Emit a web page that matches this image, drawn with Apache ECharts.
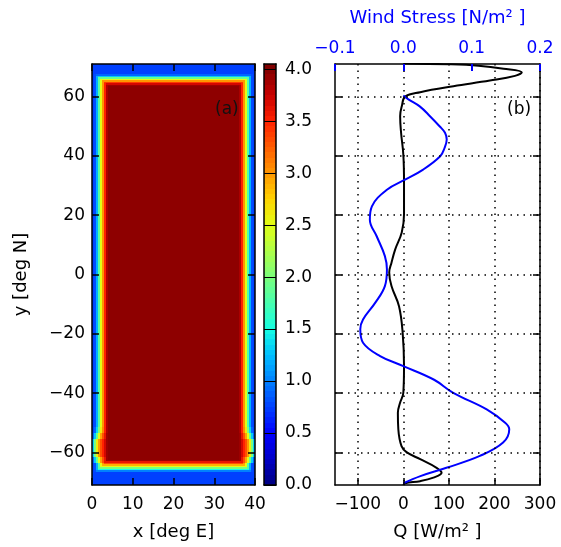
<!DOCTYPE html>
<html>
<head>
<meta charset="UTF-8">
<title>Forcing fields</title>
<style>
  html, body { margin: 0; padding: 0; background: #fff; }
  #chart { width: 561px; height: 547px; }
</style>
<script src="https://cdn.jsdelivr.net/npm/echarts@6/dist/echarts.min.js"></script>
</head>
<body>
<div id="chart"></div>
<script>
// ---- panel (a): field values (0.5 deg cells) ----
// across the east/west walls, from the wall inward (mirrored at x = 40)
const sideEdge = [0.75, 0.8, 1.2, 1.8, 2.5, 3.0, 3.5, 3.85];
// the edge widens outward in the south, between about 52S and 64S
const sideEdgeS1 = [0.78, 0.9, 1.35, 2.0, 2.6, 3.05, 3.5, 3.85];
const sideEdgeS2 = [0.9, 1.3, 1.9, 2.5, 2.95, 3.3, 3.6, 3.9];
const sideEdgeS3 = [1.3, 2.0, 2.6, 3.0, 3.3, 3.5, 3.7, 3.9];
const southRowEdges = [-51.5, -53.5, -55.5, -61.5, -63.5];
const southProfiles = [sideEdgeS1, sideEdgeS2, sideEdgeS3, sideEdgeS2];
// from the northern wall (71N) southward
const topEdge = [0.75, 0.75, 0.75, 0.75, 0.75, 0.75, 0.75, 0.9, 1.3, 1.9, 2.5, 3.0, 3.4, 3.7, 3.9];
// from the southern wall (71S) northward
const bottomEdge = [0.75, 0.75, 0.75, 0.75, 0.75, 0.75, 0.75, 0.75, 0.75, 1.0, 1.5, 2.0, 2.5, 2.9, 3.3, 3.6, 3.9];
const interiorValue = 3.95;

// colour bar labels
const cbTicks = [0, 0.5, 1, 1.5, 2, 2.5, 3, 3.5, 4];

// ---- panel (b): profiles vs latitude ----
const qLat = [71.2, 70.9, 70.4, 69.4, 68.2, 67.0, 65.4, 63.5, 61.5, 60.0, 57.0, 53.4, 47.9, 40.4, 31.0, 20.2, 14.2, 8.4, 4.0, 0.7, -3.9, -10.7, -19.6, -30.9, -39.9, -43.2, -46.6, -52.2, -57.9, -59.9, -62.3, -65.2, -66.9, -68.5, -69.7, -70.4, -71.0];
const qVal = [0, 100, 165, 220, 260, 245, 190, 110, 37, 4, -3, -7, -5, 0, 1.5, 1.5, -3.5, -18, -26, -31, -26, -9.5, -1.5, 1.5, 0, -7, -12, -11, -4, 7, 37, 73, 84, 66, 37, 4, 0];

const tauLat = [60.4, 59.0, 56.7, 53.4, 50.0, 47.8, 45.5, 42.5, 39.9, 35.4, 32.0, 28.6, 23.0, 18.5, 12.9, 6.2, 1.7, -3.9, -9.5, -15.2, -18.5, -23.0, -27.5, -30.9, -35.5, -39.9, -45.5, -50.0, -52.2, -56.7, -61.2, -65.2, -68.0, -70.4];
const tauVal = [0, 0.008, 0.024, 0.039, 0.053, 0.061, 0.0635, 0.060, 0.054, 0.029, 0.0025, -0.024, -0.046, -0.049, -0.039, -0.027, -0.024, -0.027, -0.041, -0.059, -0.063, -0.059, -0.034, 0, 0.045, 0.073, 0.122, 0.149, 0.155, 0.146, 0.112, 0.063, 0.025, 0];

const latTicks = [-60, -40, -20, 0, 20, 40, 60];
const qTicks = [-100, 0, 100, 200, 300];

const jet = ['#000080', '#0000c8', '#0000ff', '#0040ff', '#0080ff', '#00bfff', '#15ffe2', '#48ffaf',
  '#7bff7b', '#afff48', '#e2ff15', '#ffd200', '#ff9700', '#ff5c00', '#ff2100', '#c80000', '#800000'];

// build field as horizontal runs of equal value: [x0, x1, y0, y1, v]
const cell = 0.5, latMin = -71, nx = 80, ny = 284;
const fieldRuns = [];
for (let j = 0; j < ny; j++) {
  const y0 = latMin + j * cell, y1 = y0 + cell, yc = y0 + cell / 2;
  let cap = interiorValue;
  if (j < bottomEdge.length) cap = Math.min(cap, bottomEdge[j]);
  if (ny - 1 - j < topEdge.length) cap = Math.min(cap, topEdge[ny - 1 - j]);
  let prof = sideEdge;
  for (let k = 0; k < southProfiles.length; k++) {
    if (yc < southRowEdges[k] && yc > southRowEdges[k + 1]) prof = southProfiles[k];
  }
  let start = 0, cur = null;
  for (let i = 0; i <= nx; i++) {
    let v = null;
    if (i < nx) {
      const k = Math.min(i, nx - 1 - i);
      v = Math.min(cap, k < prof.length ? prof[k] : interiorValue);
    }
    if (v !== cur) {
      if (cur !== null) fieldRuns.push([start * cell, i * cell, y0, y1, cur]);
      start = i; cur = v;
    }
  }
}
const cbCells = [];
for (let k = 0; k < 81; k++) cbCells.push([0, 1, k * 0.05, (k + 1) * 0.05, k * 0.05 + 0.025]);

function renderCell(params, api) {
  const p0 = api.coord([api.value(0), api.value(3)]);
  const p1 = api.coord([api.value(1), api.value(2)]);
  const x = Math.round(p0[0]), y = Math.round(p0[1]);
  return {
    type: 'rect',
    shape: { x: x, y: y, width: Math.round(p1[0]) - x, height: Math.round(p1[1]) - y },
    style: { fill: api.visual('color') }
  };
}

function minus(v) { return String(v).replace('-', '\u2212'); }

const font = 'DejaVu Sans';
const black = { onZero: false, lineStyle: { color: '#000', width: 1.5 } };
const tickIn = { show: true, inside: true, length: 7, lineStyle: { color: '#000', width: 1.5 } };
const dotted = { show: true, lineStyle: { color: '#000', width: 1.5, type: [1.5, 5] } };
const lbl = { color: '#000', fontSize: 17, fontFamily: font };

const chart = echarts.init(document.getElementById('chart'));
chart.setOption({
  animation: false,
  textStyle: { fontFamily: font },
  grid: [
    { left: 92, top: 64, width: 163, height: 421 },
    { left: 264, top: 64, width: 12, height: 421 },
    { left: 335, top: 64, width: 205, height: 421 }
  ],
  visualMap: {
    type: 'continuous', show: false, min: 0, max: 4, dimension: 4,
    seriesIndex: [0, 1], inRange: { color: jet }
  },
  xAxis: [
    { gridIndex: 0, type: 'value', position: 'bottom', min: 0, max: 40, interval: 10, z: 5,
      axisLine: black, axisTick: tickIn, splitLine: { show: false },
      axisLabel: Object.assign({ margin: 11 }, lbl),
      name: 'x [deg E]', nameLocation: 'middle', nameGap: 38,
      nameTextStyle: { color: '#000', fontSize: 18, fontFamily: font } },
    { gridIndex: 0, type: 'value', position: 'top', min: 0, max: 40, interval: 10, z: 5,
      axisLine: black, axisTick: tickIn, axisLabel: { show: false }, splitLine: { show: false } },
    { gridIndex: 1, type: 'value', position: 'bottom', min: 0, max: 1, z: 5,
      axisLine: black, axisTick: { show: false }, axisLabel: { show: false }, splitLine: { show: false } },
    { gridIndex: 2, type: 'value', position: 'bottom', min: -150, max: 300, z: 5,
      axisLine: black,
      axisTick: Object.assign({ customValues: qTicks }, tickIn),
      axisLabel: Object.assign({ margin: 11, customValues: qTicks, formatter: minus }, lbl),
      splitLine: dotted,
      name: 'Q [W/m\u00b2 ]', nameLocation: 'middle', nameGap: 38,
      nameTextStyle: { color: '#000', fontSize: 18, fontFamily: font } },
    { gridIndex: 2, type: 'value', position: 'top', min: -0.1, max: 0.2, interval: 0.1, z: 5,
      axisLine: black,
      axisTick: { show: true, inside: true, length: 7, lineStyle: { color: '#0000ff', width: 2 } },
      axisLabel: { margin: 7, color: '#0000ff', fontSize: 17, fontFamily: font,
        formatter: function (v) { return minus(v.toFixed(1)); } },
      splitLine: { show: false },
      name: 'Wind Stress [N/m\u00b2 ]', nameLocation: 'middle', nameGap: 37,
      nameTextStyle: { color: '#0000ff', fontSize: 18, fontFamily: font } },
    { gridIndex: 1, type: 'value', position: 'top', min: 0, max: 1, z: 5,
      axisLine: black, axisTick: { show: false }, axisLabel: { show: false }, splitLine: { show: false } }
  ],
  yAxis: [
    { gridIndex: 0, type: 'value', position: 'left', min: -71, max: 71, z: 5,
      axisLine: black,
      axisTick: Object.assign({ customValues: latTicks }, tickIn),
      axisLabel: Object.assign({ margin: 7, customValues: latTicks, formatter: minus }, lbl),
      splitLine: { show: false },
      name: 'y [deg N]', nameLocation: 'middle', nameGap: 62,
      nameTextStyle: { color: '#000', fontSize: 18, fontFamily: font } },
    { gridIndex: 0, type: 'value', position: 'right', min: -71, max: 71, z: 5,
      axisLine: black, axisTick: Object.assign({ customValues: latTicks }, tickIn),
      axisLabel: { show: false }, splitLine: { show: false } },
    { gridIndex: 1, type: 'value', position: 'right', min: 0, max: 4.05, z: 5,
      axisLine: black, axisTick: { show: false, customValues: cbTicks },
      axisLabel: Object.assign({ margin: 9, customValues: cbTicks,
        formatter: function (v) { return v.toFixed(1); } }, lbl),
      splitLine: { show: true, lineStyle: { color: '#000', width: 1 } } },
    { gridIndex: 2, type: 'value', position: 'left', min: -71, max: 71, z: 5,
      axisLine: black, axisTick: Object.assign({ customValues: latTicks }, tickIn),
      axisLabel: { show: false }, splitLine: dotted },
    { gridIndex: 2, type: 'value', position: 'right', min: -71, max: 71, z: 5,
      axisLine: black, axisTick: Object.assign({ customValues: latTicks }, tickIn),
      axisLabel: { show: false }, splitLine: { show: false } },
    { gridIndex: 1, type: 'value', position: 'left', min: 0, max: 4.05, z: 5,
      axisLine: black, axisTick: { show: false }, axisLabel: { show: false }, splitLine: { show: false } }
  ],
  series: [
    { type: 'custom', xAxisIndex: 0, yAxisIndex: 0, renderItem: renderCell,
      encode: { x: [0, 1], y: [2, 3] }, data: fieldRuns, progressive: 0, z: 1, silent: true },
    { type: 'custom', xAxisIndex: 2, yAxisIndex: 2, renderItem: renderCell, clip: true,
      encode: { x: [0, 1], y: [2, 3] }, data: cbCells, progressive: 0, z: 1, silent: true },
    { type: 'line', xAxisIndex: 3, yAxisIndex: 3, smooth: 0.4, symbol: 'none',
      lineStyle: { color: '#000', width: 2 },
      data: qLat.map(function (lat, i) { return [qVal[i], lat]; }), z: 3 },
    { type: 'line', xAxisIndex: 4, yAxisIndex: 3, smooth: 0.4, symbol: 'none',
      lineStyle: { color: '#0000ff', width: 2 },
      data: tauLat.map(function (lat, i) { return [tauVal[i], lat]; }), z: 4 }
  ],
  graphic: [
    { type: 'text', left: 215, top: 101, z: 10,
      style: { text: '(a)', fontSize: 17, fontFamily: font, fill: '#111' } },
    { type: 'text', left: 507, top: 101, z: 10,
      style: { text: '(b)', fontSize: 17, fontFamily: font, fill: '#000' } }
  ]
});
</script>
</body>
</html>
